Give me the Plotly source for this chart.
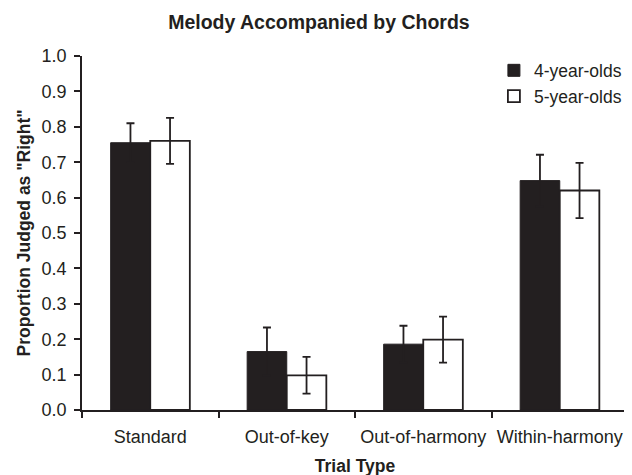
import plotly.graph_objects as go

trial_types = ["Standard", "Out-of-key", "Out-of-harmony", "Within-harmony"]
age4_values = [0.755, 0.165, 0.186, 0.648]
age4_errors = [0.055, 0.068, 0.052, 0.073]
age5_values = [0.760, 0.098, 0.199, 0.620]
age5_errors = [0.065, 0.052, 0.065, 0.078]

INK = "#231f20"
FONT = "Liberation Sans, Arial, sans-serif"

fig = go.Figure()
fig.add_trace(go.Bar(
    x=trial_types, y=age4_values, name="4-year-olds",
    marker=dict(color=INK, line=dict(color=INK, width=1)),
    error_y=dict(type="data", array=age4_errors, color=INK, thickness=1.8, width=4),
))
fig.add_trace(go.Bar(
    x=trial_types, y=age5_values, name="5-year-olds",
    marker=dict(color="white", line=dict(color=INK, width=1.8)),
    error_y=dict(type="data", array=age5_errors, color=INK, thickness=1.8, width=4),
))

# page has an 8px body margin, so margins are shifted to compensate
fig.update_layout(
    width=632, height=475,
    paper_bgcolor="white", plot_bgcolor="white",
    margin=dict(l=74, r=12, t=48, b=73),
    barmode="group", bargap=0.42, bargroupgap=0,
    font=dict(family=FONT, size=18, color=INK),
    title=dict(text="<b>Melody Accompanied by Chords</b>", x=0.492, xanchor="center",
               y=0.971, yanchor="middle", font=dict(size=19.5, color=INK)),
    legend=dict(x=0.998, xanchor="right", y=1.01, yanchor="top", bgcolor="rgba(0,0,0,0)",
                font=dict(size=17.5), tracegroupgap=0, itemwidth=30),
    showlegend=True,
)
fig.update_xaxes(
    title=dict(text="<b>Trial Type</b>", font=dict(size=17.5), standoff=13),
    showline=True, linecolor=INK, linewidth=1.5,
    ticks="outside", tickson="boundaries", ticklen=6, tickcolor=INK, tickwidth=1.5,
    ticklabelstandoff=10, automargin=False,
    showgrid=False, tickfont=dict(size=18),
)
fig.update_yaxes(
    title=dict(text="<b>Proportion Judged as \"Right\"</b>", font=dict(size=17.5), standoff=6),
    range=[0, 1.0], dtick=0.1, tickformat=".1f",
    showline=True, linecolor=INK, linewidth=1.5,
    ticks="outside", ticklen=6, tickcolor=INK, tickwidth=1.5,
    ticklabelstandoff=4, automargin=False,
    showgrid=False, zeroline=False, tickfont=dict(size=18),
)

fig.write_html("out.html")
